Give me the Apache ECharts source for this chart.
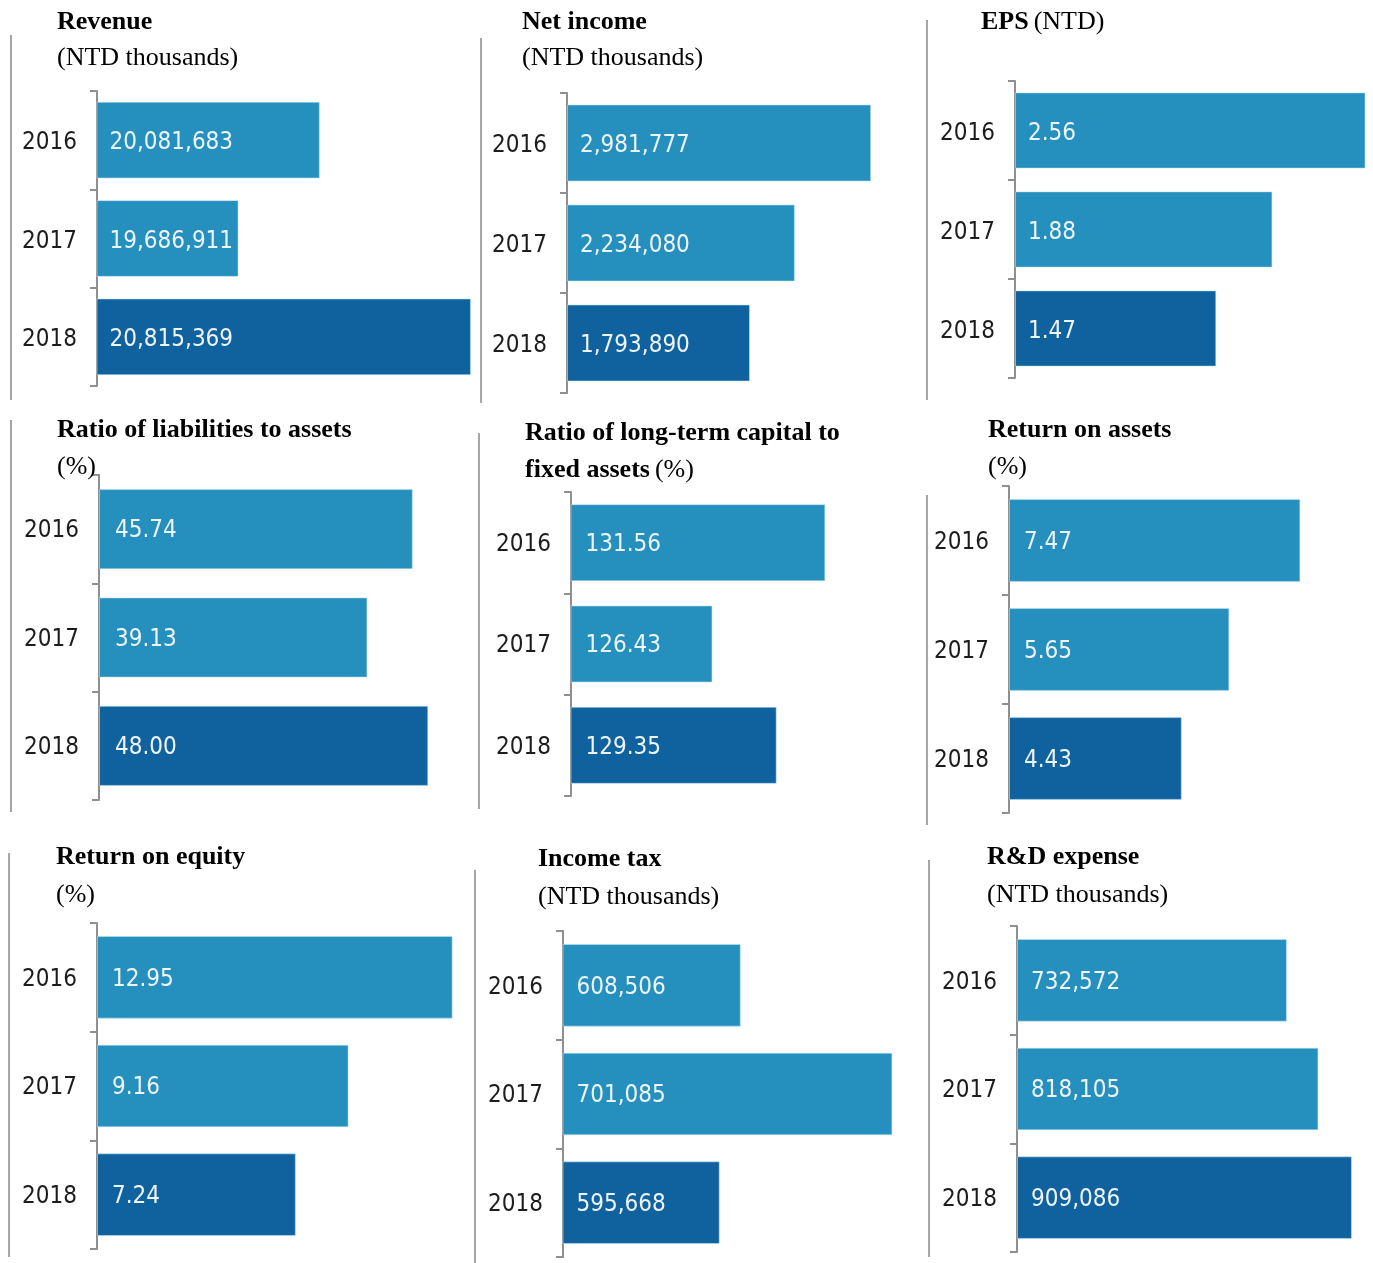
<!DOCTYPE html>
<html>
<head>
<meta charset="utf-8">
<script src="https://cdn.jsdelivr.net/npm/echarts@6/dist/echarts.min.js"></script>
<style>
  html, body { margin: 0; padding: 0; background: #ffffff; }
  #chart { width: 1373px; height: 1263px; }
</style>
</head>
<body>
<div id="chart"></div>
<script>
// Fiscal years shown in every panel
const years = ['2016', '2017', '2018'];

// Financial highlights, one list per metric
const revenue = [20081683, 19686911, 20815369];        // NTD thousands
const netIncome = [2981777, 2234080, 1793890];         // NTD thousands
const eps = [2.56, 1.88, 1.47];                        // NTD
const liabilitiesRatio = [45.74, 39.13, 48.00];        // %
const longTermCapitalRatio = [131.56, 126.43, 129.35]; // %
const returnOnAssets = [7.47, 5.65, 4.43];             // %
const returnOnEquity = [12.95, 9.16, 7.24];            // %
const incomeTax = [608506, 701085, 595668];            // NTD thousands
const rdExpense = [732572, 818105, 909086];            // NTD thousands

const LIGHT = '#2590be';
const DARK = '#10629f';
const SERIF = '"Liberation Serif", "Times New Roman", serif';
const SANS = '"DejaVu Sans Condensed", "Liberation Sans", sans-serif';

const fmtInt = v => v.toLocaleString('en-US');
const fmtDec = v => v.toFixed(2);

// Panel layout: title block, plot box and value-axis range
const panels = [
  { title: '{b|Revenue}\n{n|(NTD thousands)}', tx: 57, ty: 4, lh: 36,
    data: revenue, fmt: fmtInt, min: 19000000, max: 21000000,
    gx: 97, gy: 91, gw: 412, gh: 295, gap: '22%', ld: 13, dy: 3 },
  { title: '{b|Net income}\n{n|(NTD thousands)}', tx: 522, ty: 4, lh: 36,
    data: netIncome, fmt: fmtInt, min: 0, max: 3500000,
    gx: 567, gy: 93, gw: 357, gh: 300, gap: '23%', ld: 13, dy: 3 },
  { title: '{b|EPS} {n|(NTD)}', tx: 981, ty: 4, lh: 36,
    data: eps, fmt: fmtDec, min: 0, max: 2.6,
    gx: 1015, gy: 81, gw: 356, gh: 297, gap: '23%', ld: 13, dy: 3 },
  { title: '{b|Ratio of liabilities to assets}\n{n|(%)}', tx: 57, ty: 412, lh: 37,
    data: liabilitiesRatio, fmt: fmtDec, min: 0, max: 50,
    gx: 99, gy: 475, gw: 343, gh: 325, gap: '26%', ld: 16, dy: 2 },
  { title: '{b|Ratio of long-term capital to}\n{b|fixed assets} {n|(%)}', tx: 525, ty: 415, lh: 37,
    data: longTermCapitalRatio, fmt: fmtDec, min: 120, max: 132,
    gx: 571, gy: 492, gw: 264, gh: 304, gap: '24%', ld: 15, dy: 2 },
  { title: '{b|Return on assets}\n{n|(%)}', tx: 988, ty: 412, lh: 37,
    data: returnOnAssets, fmt: fmtDec, min: 0, max: 8,
    gx: 1009, gy: 486, gw: 312, gh: 327, gap: '24%', ld: 15, dy: 2 },
  { title: '{b|Return on equity}\n{n|(%)}', tx: 56, ty: 838, lh: 38,
    data: returnOnEquity, fmt: fmtDec, min: 0, max: 13,
    gx: 97, gy: 923, gw: 357, gh: 326, gap: '24%', ld: 15, dy: 2 },
  { title: '{b|Income tax}\n{n|(NTD thousands)}', tx: 538, ty: 840, lh: 38,
    data: incomeTax, fmt: fmtInt, min: 500000, max: 710000,
    gx: 563, gy: 931, gw: 344, gh: 326, gap: '24%', ld: 14, dy: 2 },
  { title: '{b|R&D expense}\n{n|(NTD thousands)}', tx: 987, ty: 838, lh: 38,
    data: rdExpense, fmt: fmtInt, min: 0, max: 950000,
    gx: 1017, gy: 926, gw: 350, gh: 326, gap: '24%', ld: 14, dy: 2 }
];

// Thin grey rules at the left edge of each panel
const rules = [
  [11, 35, 400], [481, 38, 403], [927, 20, 400],
  [11, 420, 812], [479, 433, 809], [927, 495, 825],
  [9, 853, 1257], [475, 870, 1263], [929, 860, 1257]
];

const option = {
  backgroundColor: '#ffffff',
  animation: false,
  title: panels.map(p => ({
    text: p.title, left: p.tx, top: p.ty, padding: 0,
    textStyle: {
      rich: {
        b: { fontFamily: SERIF, fontWeight: 'bold', fontSize: 26, color: '#000', lineHeight: p.lh },
        n: { fontFamily: SERIF, fontWeight: 'normal', fontSize: 26, color: '#000', lineHeight: p.lh }
      }
    }
  })),
  grid: panels.map(p => ({ left: p.gx, top: p.gy, width: p.gw, height: p.gh, containLabel: false })),
  xAxis: panels.map((p, i) => ({
    type: 'value', gridIndex: i, min: p.min, max: p.max, show: false
  })),
  yAxis: panels.map((p, i) => ({
    type: 'category', gridIndex: i, data: years, inverse: true,
    axisLine: { show: true, lineStyle: { color: '#8f8f8f', width: 2 } },
    axisTick: { show: true, length: 7, lineStyle: { color: '#8f8f8f', width: 2 } },
    axisLabel: {
      margin: 20,
      formatter: v => '{y|' + v + '}',
      rich: {
        y: {
          fontFamily: SANS, fontSize: 24, color: '#1c1c1c',
          padding: [p.dy * 2, 0, 0, 0]
        }
      }
    },
    splitLine: { show: false }
  })),
  series: panels.map((p, i) => ({
    type: 'bar', xAxisIndex: i, yAxisIndex: i,
    data: p.data,
    barCategoryGap: p.gap,
    itemStyle: {
      color: params => params.dataIndex === years.length - 1 ? DARK : LIGHT,
      borderColor: 'rgba(190,225,240,0.55)', borderWidth: 1
    },
    label: {
      show: true, position: 'insideLeft', distance: p.ld, offset: [0, p.dy],
      formatter: params => p.fmt(params.value),
      fontFamily: SANS, fontSize: 24, color: '#eef4f8'
    }
  })),
  graphic: rules.map(r => ({
    type: 'line', silent: true,
    shape: { x1: r[0], y1: r[1], x2: r[0], y2: r[2] },
    style: { stroke: '#a6a6a6', lineWidth: 2 }
  }))
};

const chart = echarts.init(document.getElementById('chart'), null, { renderer: 'canvas' });
chart.setOption(option);
</script>
</body>
</html>
